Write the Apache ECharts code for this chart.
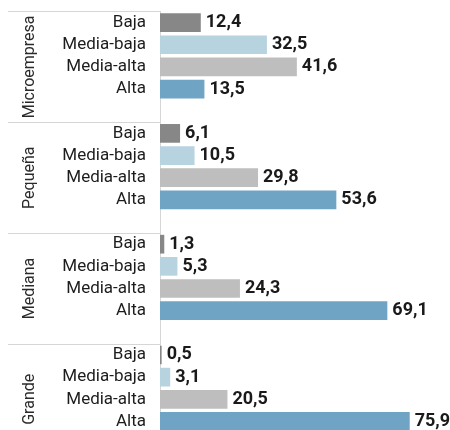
<!DOCTYPE html>
<html>
<head>
<meta charset="utf-8">
<script src="https://cdn.jsdelivr.net/npm/echarts@6/dist/echarts.min.js"></script>
<style>
  html, body { margin: 0; padding: 0; background: #fff; }
  #chart { width: 450px; height: 430px; }
</style>
</head>
<body>
<div id="chart"></div>
<script>
// Company size groups and technology-intensity levels
const groups = ['Microempresa', 'Pequeña', 'Mediana', 'Grande'];
const levels = ['Baja', 'Media-baja', 'Media-alta', 'Alta'];
const levelColors = ['#878787', '#b7d3e0', '#bebebe', '#6fa4c4'];

// Percentages per group, in the order of `levels`
const microempresa = [12.4, 32.5, 41.6, 13.5];
const pequena = [6.1, 10.5, 29.8, 53.6];
const mediana = [1.3, 5.3, 24.3, 69.1];
const grande = [0.5, 3.1, 20.5, 75.9];
const groupValues = [microempresa, pequena, mediana, grande];

// One band per level plus an empty spacer band after each group
const categories = [];
const barData = [];
groupValues.forEach(function (vals) {
  levels.forEach(function (lvl, i) {
    categories.push(lvl);
    barData.push({ value: vals[i], itemStyle: { color: levelColors[i] } });
  });
  categories.push('');
  barData.push(null);
});

const slot = 22.16;
const fontFamily = 'Roboto, "Liberation Sans", sans-serif';

const chart = echarts.init(document.getElementById('chart'), null, { renderer: 'canvas' });
chart.setOption({
  animation: false,
  backgroundColor: '#ffffff',
  grid: {
    left: 160,
    top: 11.5,
    width: 263.2,
    height: slot * categories.length,
    outerBoundsMode: 'none',
    containLabel: false
  },
  xAxis: {
    type: 'value',
    min: 0,
    max: 80,
    show: false
  },
  yAxis: [
    {
      type: 'category',
      data: categories,
      inverse: true,
      position: 'left',
      axisLine: { show: true, lineStyle: { color: '#d6d6d6', width: 1 } },
      axisTick: { show: false },
      axisLabel: {
        margin: 14,
        fontFamily: fontFamily,
        fontSize: 17,
        color: '#1c1c1c',
        interval: 0
      },
      splitLine: { show: false }
    },
    {
      type: 'category',
      data: groups,
      inverse: true,
      position: 'left',
      axisLine: { show: false },
      axisTick: {
        show: true,
        length: 152,
        lineStyle: { color: '#d6d6d6', width: 1 }
      },
      axisLabel: {
        rotate: 90,
        margin: 130,
        align: 'center',
        verticalAlign: 'middle',
        fontFamily: fontFamily,
        fontSize: 16,
        color: '#2a2a2a',
        interval: 0
      },
      splitLine: { show: false }
    }
  ],
  series: [
    {
      type: 'bar',
      yAxisIndex: 0,
      data: barData,
      barWidth: 18.7,
      label: {
        show: true,
        position: 'right',
        distance: 5,
        fontFamily: fontFamily,
        fontWeight: 'bold',
        fontSize: 18,
        color: '#1a1a1a',
        formatter: function (p) {
          return p.value.toFixed(1).replace('.', ',');
        }
      }
    }
  ]
});
</script>
</body>
</html>
